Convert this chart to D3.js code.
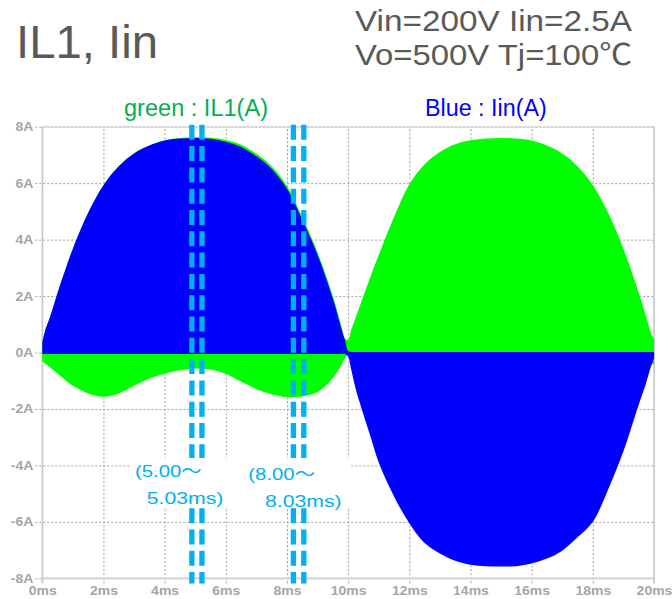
<!DOCTYPE html>
<html>
<head>
<meta charset="utf-8">
<script src="https://cdn.jsdelivr.net/npm/d3@7"></script>
<style>
  body { margin: 0; background: #fff; }
  text { font-family: "Liberation Sans", Arial, "Noto Sans CJK JP", sans-serif; }
  .tick text { font-family: "Liberation Sans", Arial, sans-serif; font-size: 12.5px; font-weight: bold; }
</style>
</head>
<body>
<svg id="chart" width="672" height="599"></svg>
<script>
// Time axis (ms) shared by all envelopes
const timeMs = [0, 0.1, 0.25, 0.5, 0.75, 1, 1.5, 2, 2.5, 3, 3.5, 4, 4.5, 5, 5.5, 6, 6.5, 7, 7.5, 8, 8.5, 9, 9.5, 9.75, 9.9, 10,
  10.1, 10.25, 10.5, 10.75, 11, 11.5, 12, 12.5, 13, 13.5, 14, 14.5, 15, 15.5, 16, 16.5, 17, 17.5, 18, 18.5, 19, 19.5, 19.75, 19.9, 20];

// IL1 ripple envelope (A): upper and lower bound of the switching waveform
const il1Max = [0.35, 0.8, 1.25, 2.12, 2.92, 3.68, 4.95, 5.93, 6.6, 7.05, 7.33, 7.52, 7.6, 7.63, 7.61, 7.53, 7.36, 7.04, 6.6, 5.9, 4.8, 3.55, 2.0, 1.05, 0.5, 0.45,
  0.8, 1.25, 2.0, 2.75, 3.45, 4.8, 5.96, 6.67, 7.1, 7.38, 7.52, 7.58, 7.6, 7.58, 7.51, 7.33, 7.05, 6.6, 5.93, 4.95, 3.68, 2.12, 1.25, 0.7, 0.45];
const il1Min = [-0.3, -0.4, -0.52, -0.75, -0.97, -1.18, -1.45, -1.57, -1.45, -1.18, -0.92, -0.75, -0.63, -0.57, -0.6, -0.76, -1.03, -1.3, -1.48, -1.58, -1.55, -1.4, -0.9, -0.5, -0.2, -0.1,
  -0.35, -0.08, -0.05, -0.05, -0.05, -0.05, -0.05, -0.05, -0.05, -0.05, -0.05, -0.05, -0.05, -0.05, -0.05, -0.05, -0.05, -0.05, -0.05, -0.05, -0.05, -0.05, -0.1, -0.35, -0.45];

// Iin ripple envelope (A)
const iinMax = [0.35, 0.8, 1.25, 2.12, 2.92, 3.68, 4.95, 5.93, 6.6, 7.05, 7.33, 7.51, 7.58, 7.6, 7.57, 7.47, 7.28, 6.95, 6.5, 5.8, 4.7, 3.45, 1.9, 0.95, 0.42, 0.05,
  0.02, 0.02, 0.02, 0.02, 0.02, 0.02, 0.02, 0.02, 0.02, 0.02, 0.02, 0.02, 0.02, 0.02, 0.02, 0.02, 0.02, 0.02, 0.02, 0.02, 0.02, 0.02, 0.02, 0.02, 0.02];
const iinMin = [-0.05, -0.05, -0.05, -0.05, -0.05, -0.05, -0.05, -0.05, -0.05, -0.05, -0.05, -0.05, -0.05, -0.05, -0.05, -0.05, -0.05, -0.05, -0.05, -0.05, -0.05, -0.05, -0.05, -0.05, -0.05, -0.15,
  -0.6, -1.3, -2.2, -3.05, -3.9, -5.1, -6.05, -6.75, -7.12, -7.38, -7.52, -7.57, -7.58, -7.57, -7.48, -7.3, -7.02, -6.55, -6.0, -4.85, -3.5, -1.85, -1.05, -0.5, -0.2];

// Axis ticks and labels
const xTicks = [0, 2, 4, 6, 8, 10, 12, 14, 16, 18, 20];
const xTickLabels = ["0ms", "2ms", "4ms", "6ms", "8ms", "10ms", "12ms", "14ms", "16ms", "18ms", "20ms"];
const yTicks = [-8, -6, -4, -2, 0, 2, 4, 6, 8];
const yTickLabels = ["-8A", "-6A", "-4A", "-2A", "0A", "2A", "4A", "6A", "8A"];

// Observation windows marked on the waveform (ms)
const markerTimes = [4.89, 5.22, 8.21, 8.55];

const svg = d3.select("#chart");
const x = d3.scaleLinear().domain([0, 20]).range([42.3, 654]);
const y = d3.scaleLinear().domain([-8, 8]).range([578.3, 126.7]);

function styleTickText(sel) {
  sel.attr("fill", "#a6a6a6")
    .attr("font-size", null)
    .each(function () {
      const w = this.getComputedTextLength();
      d3.select(this).attr("textLength", w * 1.12).attr("lengthAdjust", "spacingAndGlyphs");
    });
}

// ---- grid (dotted, extended past the frame as ticks)
const gx = svg.append("g")
  .attr("transform", `translate(0,${y(-8) + 5})`)
  .call(d3.axisBottom(x).tickValues(xTicks).tickSize(-(y(-8) + 5 - y(8)))
    .tickFormat((d, i) => xTickLabels[i]).tickPadding(2.5));
gx.attr("font-size", null).attr("font-family", null);
gx.select(".domain").remove();
gx.selectAll("line").attr("stroke", "#a0a0a0").attr("stroke-dasharray", "2,2");
gx.selectAll("text").call(styleTickText);

const gy = svg.append("g")
  .attr("transform", `translate(${x(0) - 7},0)`)
  .call(d3.axisLeft(y).tickValues(yTicks).tickSize(-(x(20) - x(0) + 7))
    .tickFormat((d, i) => yTickLabels[i]).tickPadding(2));
gy.attr("font-size", null).attr("font-family", null);
gy.select(".domain").remove();
gy.selectAll("line").attr("stroke", "#a0a0a0").attr("stroke-dasharray", "2,2");
gy.selectAll("text").call(styleTickText);

// ---- plot frame
svg.append("line").attr("x1", x(0)).attr("x2", x(20)).attr("y1", y(8)).attr("y2", y(8))
  .attr("stroke", "#dadada").attr("stroke-width", 1.5);
svg.append("line").attr("x1", x(0)).attr("x2", x(20)).attr("y1", y(-8)).attr("y2", y(-8))
  .attr("stroke", "#d6d6d6").attr("stroke-width", 2);
svg.append("line").attr("x1", x(0)).attr("x2", x(0)).attr("y1", y(8)).attr("y2", y(-8) + 5)
  .attr("stroke", "#c8c8c8").attr("stroke-width", 1.5);
svg.append("line").attr("x1", x(20)).attr("x2", x(20)).attr("y1", y(8)).attr("y2", y(-8) + 5)
  .attr("stroke", "#c8c8c8").attr("stroke-width", 1.5);

// ---- waveform envelopes
const band = (hi, lo) => timeMs.map((t, i) => ({ t, hi: hi[i], lo: lo[i] }));
const area = d3.area()
  .x(d => x(d.t))
  .y0(d => y(d.lo))
  .y1(d => y(d.hi))
  .curve(d3.curveCatmullRom.alpha(0.5));

svg.append("path").datum(band(il1Max, il1Min)).attr("d", area).attr("fill", "#00ff00");
svg.append("path").datum(band(iinMax, iinMin)).attr("d", area).attr("fill", "#0000ff");

// ---- dashed window markers
svg.selectAll(".marker").data(markerTimes).join("line")
  .attr("class", "marker")
  .attr("x1", d => x(d)).attr("x2", d => x(d))
  .attr("y1", 124.8).attr("y2", 583.5)
  .attr("stroke", "#00b0f0").attr("stroke-width", 5.3)
  .attr("stroke-dasharray", "15,6.3");

// ---- annotation text box
svg.append("rect").attr("x", 130).attr("y", 458).attr("width", 221).attr("height", 49.5).attr("fill", "#fff");
const notes = [
  { s: "(5.00～", x: 135, y: 477, w: 66.7 },
  { s: "5.03ms)", x: 146.7, y: 504, w: 76.7 },
  { s: "(8.00～", x: 248.3, y: 480, w: 66.7 },
  { s: "8.03ms)", x: 265, y: 506.5, w: 76.7 }
];
svg.selectAll(".note").data(notes).join("text")
  .attr("class", "note")
  .attr("x", d => d.x).attr("y", d => d.y)
  .attr("textLength", d => d.w).attr("lengthAdjust", "spacingAndGlyphs")
  .attr("fill", "#00b0f0").attr("font-size", 17)
  .text(d => d.s);

// ---- legend captions
svg.append("text").attr("x", 124).attr("y", 116).attr("font-size", 23)
  .attr("fill", "#00b050").attr("textLength", 144).attr("lengthAdjust", "spacingAndGlyphs")
  .text("green : IL1(A)");
svg.append("text").attr("x", 425).attr("y", 116).attr("font-size", 23)
  .attr("fill", "#0000ff").attr("textLength", 121.7).attr("lengthAdjust", "spacingAndGlyphs")
  .text("Blue : Iin(A)");

// ---- titles
svg.append("text").attr("x", 16).attr("y", 58).attr("font-size", 46)
  .attr("fill", "#595959").attr("textLength", 142).attr("lengthAdjust", "spacingAndGlyphs")
  .text("IL1, Iin");
svg.append("text").attr("x", 355).attr("y", 31).attr("font-size", 29)
  .attr("fill", "#595959").attr("textLength", 277).attr("lengthAdjust", "spacingAndGlyphs")
  .text("Vin=200V Iin=2.5A");
svg.append("text").attr("x", 355).attr("y", 65).attr("font-size", 29)
  .attr("fill", "#595959").attr("textLength", 277).attr("lengthAdjust", "spacingAndGlyphs")
  .text("Vo=500V Tj=100℃");
</script>
</body>
</html>
